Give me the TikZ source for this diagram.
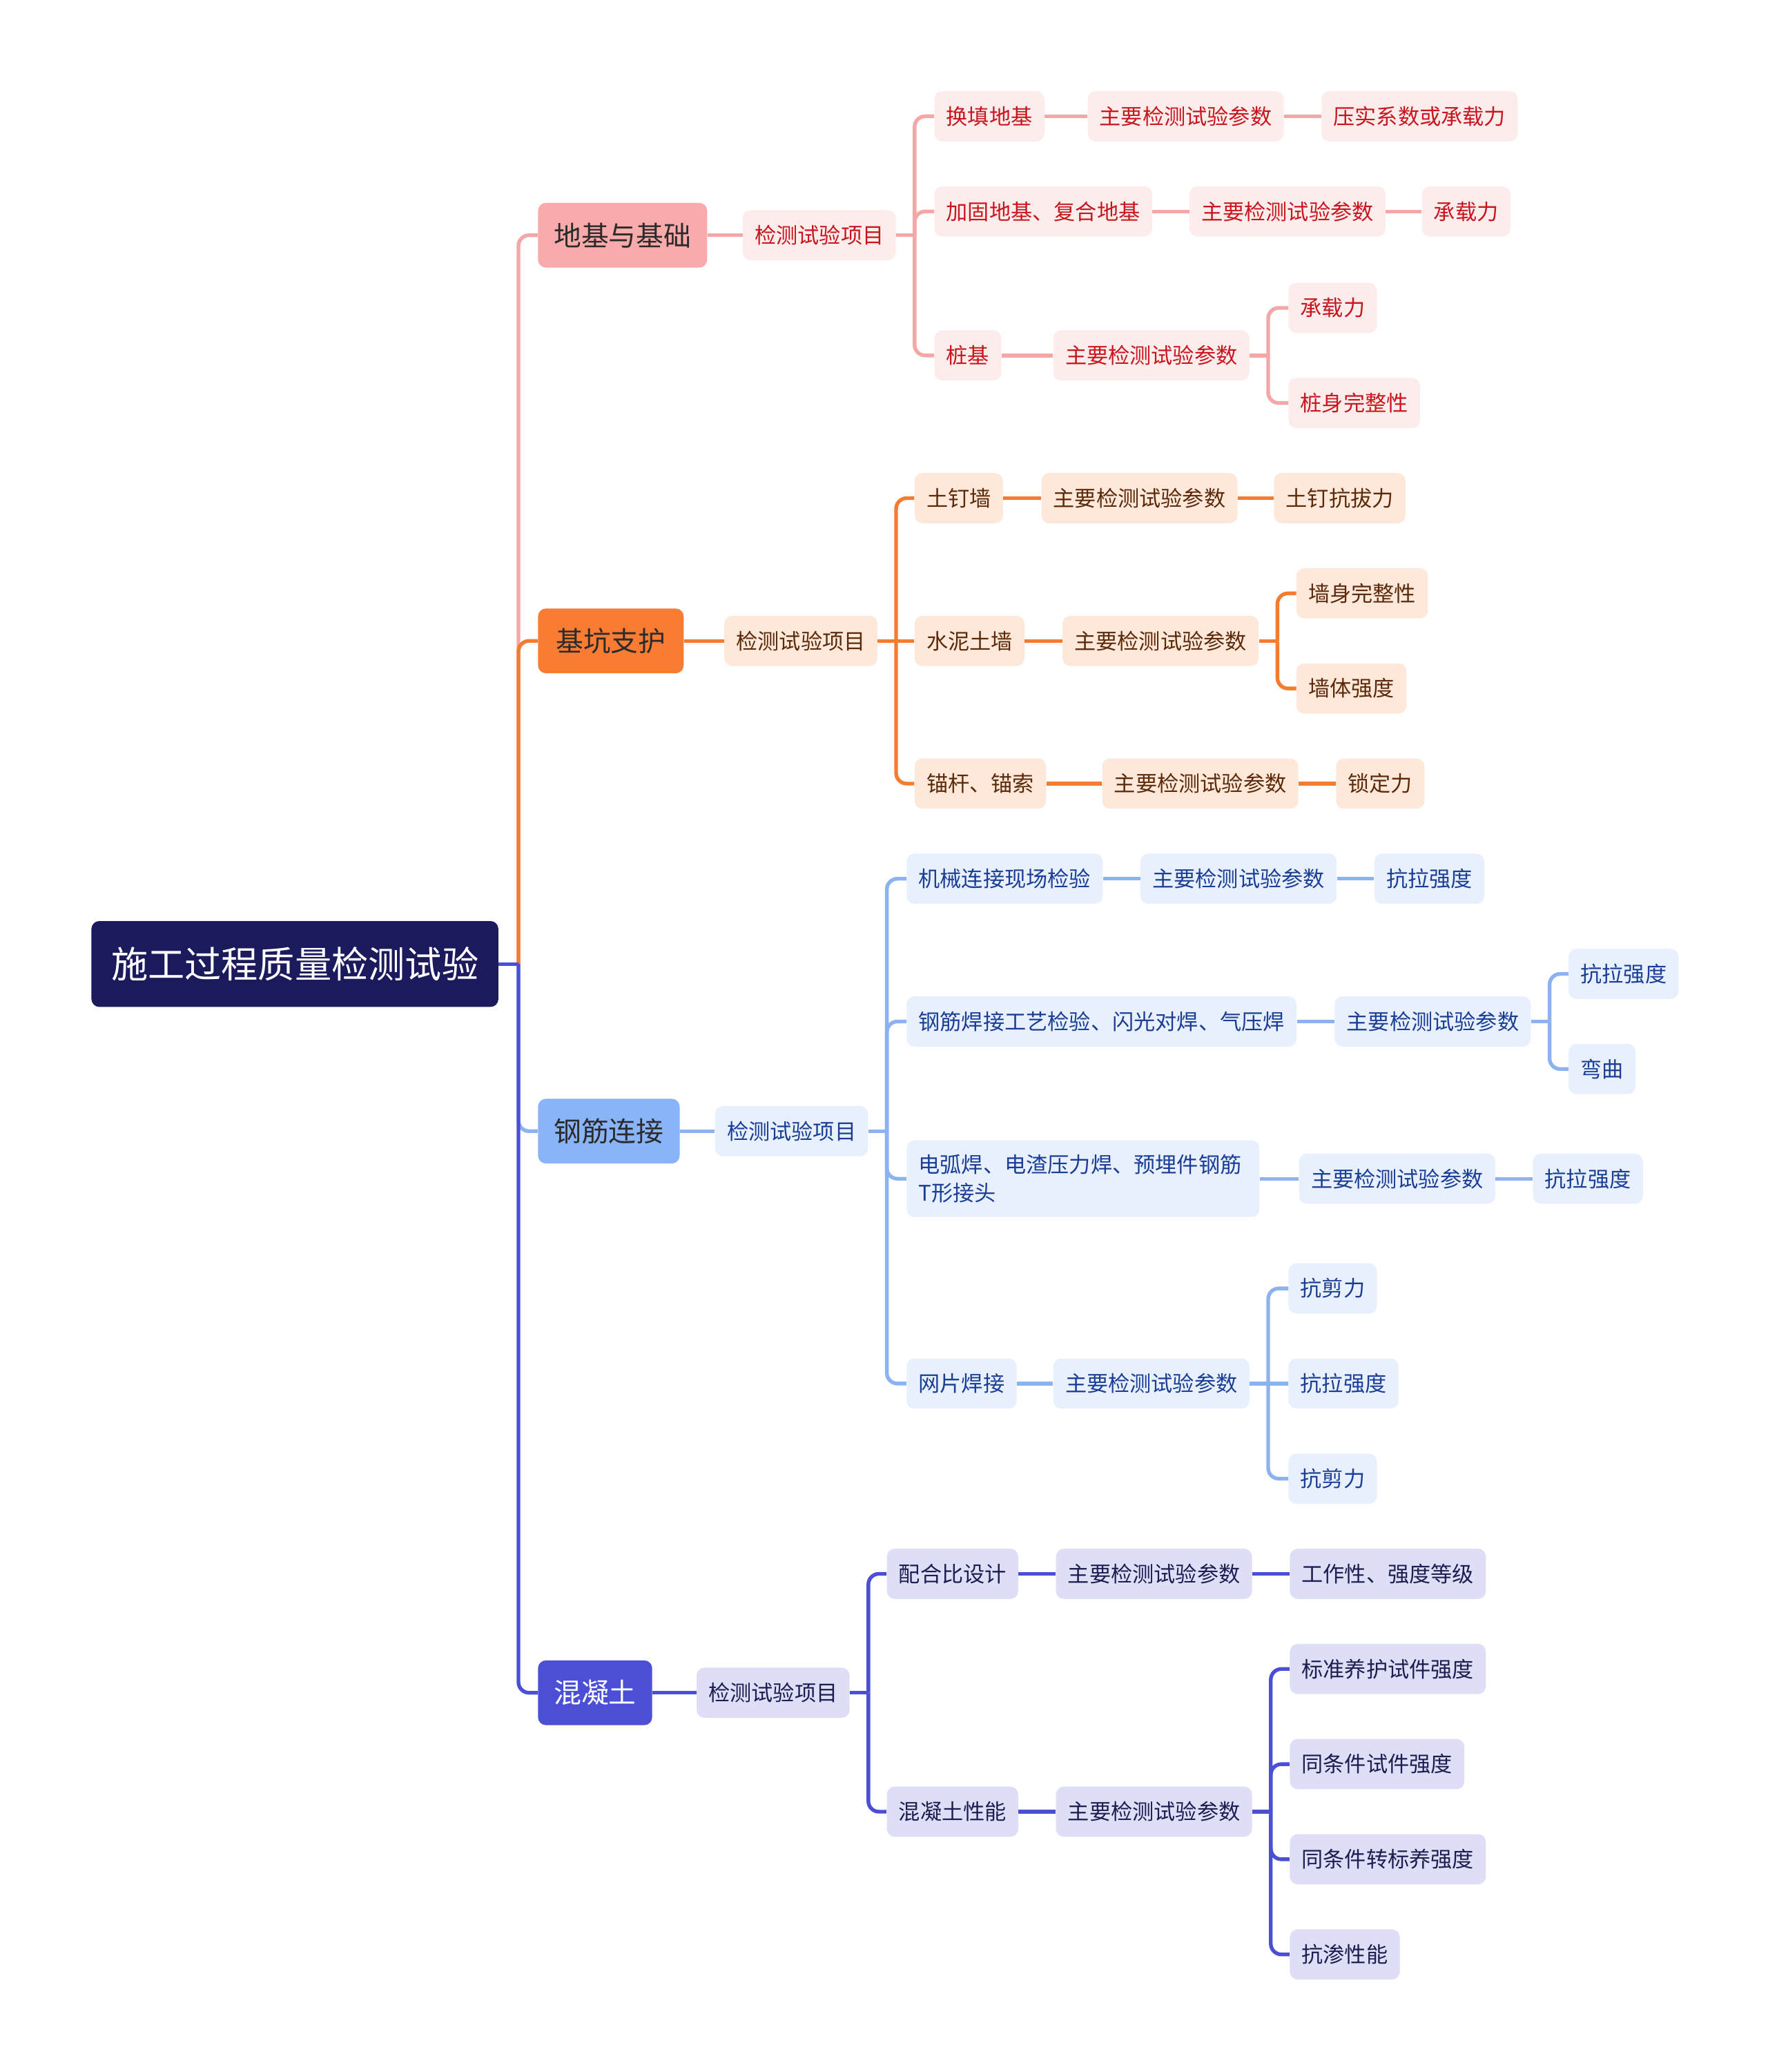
\documentclass[tikz,border=0pt]{standalone}
\usepackage{fontspec}
\setmainfont{Noto Sans CJK SC}

\definecolor{rootfill}{RGB}{27,26,92}
\definecolor{pinkmain}{RGB}{249,170,170}
\definecolor{pinkline}{RGB}{245,167,167}
\definecolor{pinkbg}{RGB}{253,236,236}
\definecolor{pinktext}{RGB}{200,22,30}
\definecolor{orangemain}{RGB}{250,123,50}
\definecolor{orangeline}{RGB}{244,124,48}
\definecolor{orangebg}{RGB}{253,232,218}
\definecolor{orangetext}{RGB}{92,42,10}
\definecolor{bluemain}{RGB}{138,180,248}
\definecolor{blueline}{RGB}{141,178,242}
\definecolor{bluebg}{RGB}{232,240,253}
\definecolor{bluetext}{RGB}{26,62,150}
\definecolor{indigomain}{RGB}{74,79,214}
\definecolor{indigoline}{RGB}{74,79,214}
\definecolor{indigobg}{RGB}{222,223,247}
\definecolor{indigotext}{RGB}{30,28,80}
\definecolor{topictext}{RGB}{43,43,43}

\tikzset{
  box/.style={rounded corners=6pt, inner ysep=0pt, anchor=west},
  rootbox/.style={box, fill=rootfill, text=white, minimum height=65pt, inner xsep=15pt, font=\fontsize{27.8}{32}\selectfont},
  topic/.style={box, minimum height=49pt, inner xsep=12pt, text=topictext, font=\fontsize{20.8}{25}\selectfont},
  leaf/.style={box, minimum height=38pt, inner xsep=9pt, font=\fontsize{16.3}{21}\selectfont},
  pinkleaf/.style={leaf, fill=pinkbg, text=pinktext},
  orangeleaf/.style={leaf, fill=orangebg, text=orangetext},
  blueleaf/.style={leaf, fill=bluebg, text=bluetext},
  indigoleaf/.style={leaf, fill=indigobg, text=indigotext},
  link/.style={line width=2.8pt, rounded corners=8pt},
}

\begin{document}
\begin{tikzpicture}[x=1pt, y=-1pt]
        \fill[white] (0,0) rectangle (1338,1568);
        \useasboundingbox (0,0) rectangle (1338,1568);

        \node[rootbox] (R) at (69,729.5) {施工过程质量检测试验};

        \node[topic, fill=pinkmain] (A) at (407,178) {地基与基础};
        \node[topic, fill=orangemain, inner xsep=13.5pt] (B) at (407,485) {基坑支护};
        \node[topic, fill=bluemain] (C) at (407,856) {钢筋连接};
        \node[topic, fill=indigomain, text=white] (D) at (407,1281) {混凝土};

        % 地基与基础
        \node[pinkleaf] (A0) at (562,178) {检测试验项目};
        \node[pinkleaf] (A1) at (707,88) {换填地基};
        \node[pinkleaf] (A1p) at (823,88) {主要检测试验参数};
        \node[pinkleaf] (A1r) at (1000,88) {压实系数或承载力};
        \node[pinkleaf] (A2) at (707,160) {加固地基、复合地基};
        \node[pinkleaf] (A2p) at (900,160) {主要检测试验参数};
        \node[pinkleaf] (A2r) at (1076,160) {承载力};
        \node[pinkleaf] (A3) at (707,269) {桩基};
        \node[pinkleaf] (A3p) at (797,269) {主要检测试验参数};
        \node[pinkleaf] (A3a) at (975,233) {承载力};
        \node[pinkleaf] (A3b) at (975,305) {桩身完整性};

        % 基坑支护
        \node[orangeleaf] (B0) at (548,485) {检测试验项目};
        \node[orangeleaf] (B1) at (692,377) {土钉墙};
        \node[orangeleaf] (B1p) at (788,377) {主要检测试验参数};
        \node[orangeleaf] (B1r) at (964,377) {土钉抗拔力};
        \node[orangeleaf] (B2) at (692,485) {水泥土墙};
        \node[orangeleaf] (B2p) at (804,485) {主要检测试验参数};
        \node[orangeleaf] (B2a) at (981,449) {墙身完整性};
        \node[orangeleaf] (B2b) at (981,521) {墙体强度};
        \node[orangeleaf] (B3) at (692,593) {锚杆、锚索};
        \node[orangeleaf] (B3p) at (834,593) {主要检测试验参数};
        \node[orangeleaf] (B3r) at (1011,593) {锁定力};

        % 钢筋连接
        \node[blueleaf] (C0) at (541,856) {检测试验项目};
        \node[blueleaf] (C1) at (686,665) {机械连接现场检验};
        \node[blueleaf] (C1p) at (863,665) {主要检测试验参数};
        \node[blueleaf] (C1r) at (1040,665) {抗拉强度};
        \node[blueleaf] (C2) at (686,773) {钢筋焊接工艺检验、闪光对焊、气压焊};
        \node[blueleaf] (C2p) at (1010,773) {主要检测试验参数};
        \node[blueleaf] (C2a) at (1187,737) {抗拉强度};
        \node[blueleaf] (C2b) at (1187,809) {弯曲};
        \node[blueleaf, text width=249pt, align=left, minimum height=58pt] (C3) at (686,892) {电弧焊、电渣压力焊、预埋件钢筋\\T形接头};
        \node[blueleaf] (C3p) at (983,892) {主要检测试验参数};
        \node[blueleaf] (C3r) at (1160,892) {抗拉强度};
        \node[blueleaf] (C4) at (686,1047) {网片焊接};
        \node[blueleaf] (C4p) at (797,1047) {主要检测试验参数};
        \node[blueleaf] (C4a) at (975,975) {抗剪力};
        \node[blueleaf] (C4b) at (975,1047) {抗拉强度};
        \node[blueleaf] (C4c) at (975,1119) {抗剪力};

        % 混凝土
        \node[indigoleaf] (D0) at (527,1281) {检测试验项目};
        \node[indigoleaf] (D1) at (671,1191) {配合比设计};
        \node[indigoleaf] (D1p) at (799,1191) {主要检测试验参数};
        \node[indigoleaf] (D1r) at (976,1191) {工作性、强度等级};
        \node[indigoleaf] (D2) at (671,1371) {混凝土性能};
        \node[indigoleaf] (D2p) at (799,1371) {主要检测试验参数};
        \node[indigoleaf] (D2a) at (976,1263) {标准养护试件强度};
        \node[indigoleaf] (D2b) at (976,1335) {同条件试件强度};
        \node[indigoleaf] (D2c) at (976,1407) {同条件转标养强度};
        \node[indigoleaf] (D2d) at (976,1479) {抗渗性能};

        % trunk
        \path (R.east) ++(15,0) coordinate (jR);
        \draw[link, pinkline] (jR) |- (A.west);
        \draw[link, orangeline] (jR) |- (B.west);
        \draw[link, blueline] (jR) |- (C.west);
        \draw[link, indigoline] (jR) |- (D.west);
        \draw[link, indigoline] (R.east) -- (jR);

        % pink links
        \draw[link, pinkline] (A.east) -- (A0.west);
        \draw[link, pinkline] (A0.east) -- ++(14,0) coordinate (jA);
        \draw[link, pinkline] (jA) |- (A1.west);
        \draw[link, pinkline] (jA) |- (A2.west);
        \draw[link, pinkline] (jA) |- (A3.west);
        \draw[link, pinkline] (A1.east) -- (A1p.west);
        \draw[link, pinkline] (A1p.east) -- (A1r.west);
        \draw[link, pinkline] (A2.east) -- (A2p.west);
        \draw[link, pinkline] (A2p.east) -- (A2r.west);
        \draw[link, pinkline] (A3.east) -- (A3p.west);
        \draw[link, pinkline] (A3p.east) -- ++(14,0) coordinate (jA3);
        \draw[link, pinkline] (jA3) |- (A3a.west);
        \draw[link, pinkline] (jA3) |- (A3b.west);

        % orange links
        \draw[link, orangeline] (B.east) -- (B0.west);
        \draw[link, orangeline] (B0.east) -- ++(14,0) coordinate (jB);
        \draw[link, orangeline] (jB) |- (B1.west);
        \draw[link, orangeline] (jB) -- (B2.west);
        \draw[link, orangeline] (jB) |- (B3.west);
        \draw[link, orangeline] (B1.east) -- (B1p.west);
        \draw[link, orangeline] (B1p.east) -- (B1r.west);
        \draw[link, orangeline] (B2.east) -- (B2p.west);
        \draw[link, orangeline] (B2p.east) -- ++(14,0) coordinate (jB2);
        \draw[link, orangeline] (jB2) |- (B2a.west);
        \draw[link, orangeline] (jB2) |- (B2b.west);
        \draw[link, orangeline] (B3.east) -- (B3p.west);
        \draw[link, orangeline] (B3p.east) -- (B3r.west);

        % blue links
        \draw[link, blueline] (C.east) -- (C0.west);
        \draw[link, blueline] (C0.east) -- ++(14,0) coordinate (jC);
        \draw[link, blueline] (jC) |- (C1.west);
        \draw[link, blueline] (jC) |- (C2.west);
        \draw[link, blueline] (jC) |- (C3.west);
        \draw[link, blueline] (jC) |- (C4.west);
        \draw[link, blueline] (C1.east) -- (C1p.west);
        \draw[link, blueline] (C1p.east) -- (C1r.west);
        \draw[link, blueline] (C2.east) -- (C2p.west);
        \draw[link, blueline] (C2p.east) -- ++(14,0) coordinate (jC2);
        \draw[link, blueline] (jC2) |- (C2a.west);
        \draw[link, blueline] (jC2) |- (C2b.west);
        \draw[link, blueline] (C3.east) -- (C3p.west);
        \draw[link, blueline] (C3p.east) -- (C3r.west);
        \draw[link, blueline] (C4.east) -- (C4p.west);
        \draw[link, blueline] (C4p.east) -- ++(14,0) coordinate (jC4);
        \draw[link, blueline] (jC4) |- (C4a.west);
        \draw[link, blueline] (jC4) -- (C4b.west);
        \draw[link, blueline] (jC4) |- (C4c.west);

        % indigo links
        \draw[link, indigoline] (D.east) -- (D0.west);
        \draw[link, indigoline] (D0.east) -- ++(14,0) coordinate (jD);
        \draw[link, indigoline] (jD) |- (D1.west);
        \draw[link, indigoline] (jD) |- (D2.west);
        \draw[link, indigoline] (D1.east) -- (D1p.west);
        \draw[link, indigoline] (D1p.east) -- (D1r.west);
        \draw[link, indigoline] (D2.east) -- (D2p.west);
        \draw[link, indigoline] (D2p.east) -- ++(14,0) coordinate (jD2);
        \draw[link, indigoline] (jD2) |- (D2a.west);
        \draw[link, indigoline] (jD2) |- (D2b.west);
        \draw[link, indigoline] (jD2) |- (D2c.west);
        \draw[link, indigoline] (jD2) |- (D2d.west);
\end{tikzpicture}
\end{document}
